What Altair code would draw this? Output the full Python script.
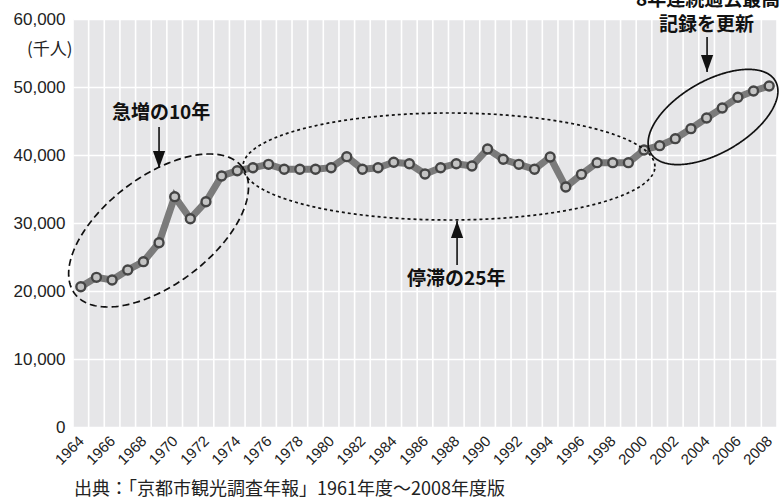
import altair as alt
import numpy as np
import pandas as pd

# ---- data ----
years = list(range(1964, 2009))
visitors = [20630, 22010, 21620, 23090, 24310, 27100, 33870, 30630, 33130, 36910,
            37690, 38130, 38630, 37900, 37900, 37900, 38130, 39750, 37900, 38130,
            38930, 38720, 37210, 38130, 38720, 38380, 40880, 39370, 38630, 37900,
            39700, 35290, 37160, 38870, 38870, 38870, 40740, 41370, 42400, 43870,
            45440, 46910, 48490, 49410, 50150]
label_years = list(range(1964, 2009, 2))
y_ticks = [0, 10000, 20000, 30000, 40000, 50000, 60000]
grid_years = [y - 0.5 for y in years] + [years[-1] + 0.5]

# annotations (data coordinates)
note_text = ["急増の10年", "停滞の25年", "8年連続過去最高", "記録を更新"]
note_year = [1969.13, 1988.0, 2004.1, 2004.0]
note_value = [46170, 21760, 62800, 59120]

arrow_year = [1969.0, 1988.05, 2004.03]
arrow_tail = [44120, 23820, 57350]
arrow_tip = [38090, 30290, 52210]
arrow_dir = ["down", "up", "down"]

# ellipses: center year, center value, semi-axes (px), tilt (deg), style
ell_cx = [1968.97, 1987.53, 2004.41]
ell_cy = [28900, 38310, 45590]
ell_a = [105, 206, 72]
ell_b = [54, 53.5, 36]
ell_rot = [37, 0, 30]
ell_dash = [[7, 4], [3, 3], [1, 0]]

caption = "出典：「京都市観光調査年報」1961年度～2008年度版"

# ---- layout ----
W, H = 704, 408
X_DOMAIN = [1963.5, 2008.5]
Y_DOMAIN = [0, 60000]
px_per_year = W / (X_DOMAIN[1] - X_DOMAIN[0])
val_per_px = (Y_DOMAIN[1] - Y_DOMAIN[0]) / H

xs = alt.Scale(domain=X_DOMAIN, nice=False, zero=False)
ys = alt.Scale(domain=Y_DOMAIN, nice=False)

x_axis = alt.Axis(values=label_years, grid=False, ticks=False, domain=False,
                  labelAngle=-45, labelAlign="right", labelBaseline="middle",
                  labelPadding=11, labelFontSize=15, labelFont="Liberation Sans",
                  labelColor="#222222", title=None, format="d", labelOverlap=False)
y_axis = alt.Axis(values=y_ticks, grid=True, gridColor="white", gridWidth=1.6,
                  gridOpacity=1, ticks=False, domain=False, format=",d",
                  labelFontSize=17, labelFont="Liberation Sans", labelColor="#222222",
                  labelPadding=8, title="(千人)", titleAngle=0, titleAlign="right",
                  titleX=-1, titleY=30, titleBaseline="middle", titleFontSize=17,
                  titleFontWeight="normal", titleFont="Noto Sans CJK JP",
                  titleColor="#222222")


def X(field):
    return alt.X(field, type="quantitative", scale=xs, axis=x_axis)


def Y(field):
    return alt.Y(field, type="quantitative", scale=ys, axis=y_axis)


df = pd.DataFrame({"year": years, "visitors": visitors})
grid_df = pd.DataFrame({"g": grid_years})

vgrid = alt.Chart(grid_df).mark_rule(color="white", strokeWidth=1.6).encode(x=X("g"))

line = alt.Chart(df).mark_line(color="#7b7b7b", strokeWidth=7).encode(
    x=X("year"), y=Y("visitors"))

pts = alt.Chart(df).mark_point(filled=True, shape="circle", size=80, fill="#c4c4c4",
                               stroke="#454545", strokeWidth=2.4, opacity=1).encode(
    x=X("year"), y=Y("visitors"))

layers = [vgrid, line, pts]

# ellipses
t = np.linspace(0, 2 * np.pi, 241)
for cx, cy, a, b, rot, dash in zip(ell_cx, ell_cy, ell_a, ell_b, ell_rot, ell_dash):
    th = np.radians(rot)
    dx = a * np.cos(t) * np.cos(th) - b * np.sin(t) * np.sin(th)
    dy = a * np.cos(t) * np.sin(th) + b * np.sin(t) * np.cos(th)
    edf = pd.DataFrame({"ex": cx + dx / px_per_year, "ey": cy + dy * val_per_px,
                        "o": np.arange(len(t))})
    layers.append(alt.Chart(edf).mark_line(color="#111111", strokeWidth=1.7,
                                           strokeDash=dash).encode(
        x=X("ex"), y=Y("ey"), order="o:Q"))

# arrows
adf = pd.DataFrame({"ax": arrow_year, "tail": arrow_tail, "tip": arrow_tip, "dir": arrow_dir})
layers.append(alt.Chart(adf).mark_rule(color="#111111", strokeWidth=1.6).encode(
    x=X("ax"), y=Y("tail"), y2="tip:Q"))
for d, path in [("down", "M-0.36,-1L0.36,-1L0,0Z"), ("up", "M-0.36,1L0.36,1L0,0Z")]:
    layers.append(alt.Chart(adf[adf["dir"] == d]).mark_point(
        shape=path, size=1156, filled=True, color="#111111", opacity=1).encode(
        x=X("ax"), y=Y("tip")))

# annotation texts
ndf = pd.DataFrame({"nx": note_year, "ny": note_value, "txt": note_text})
layers.append(alt.Chart(ndf).mark_text(font="Noto Sans CJK JP", fontWeight="bold",
                                       fontSize=19, color="#111111",
                                       baseline="middle", align="center").encode(
    x=X("nx"), y=Y("ny"), text="txt:N"))

# caption
cdf = pd.DataFrame({"c": [caption]})
layers.append(alt.Chart(cdf).mark_text(font="Noto Sans CJK JP", fontSize=18,
                                       color="#222222", align="left",
                                       baseline="middle").encode(
    x=alt.value(1), y=alt.value(471), text="c:N"))

chart = alt.layer(*layers).properties(
    width=W, height=H,
    autosize=alt.AutoSizeParams(type="none"),
    padding={"left": 73, "top": 19, "right": 2, "bottom": 74},
    background="white",
).configure_view(fill="#e6e6e8", stroke=None)

chart.save("out.html", embed_options={"renderer": "svg", "actions": False})
